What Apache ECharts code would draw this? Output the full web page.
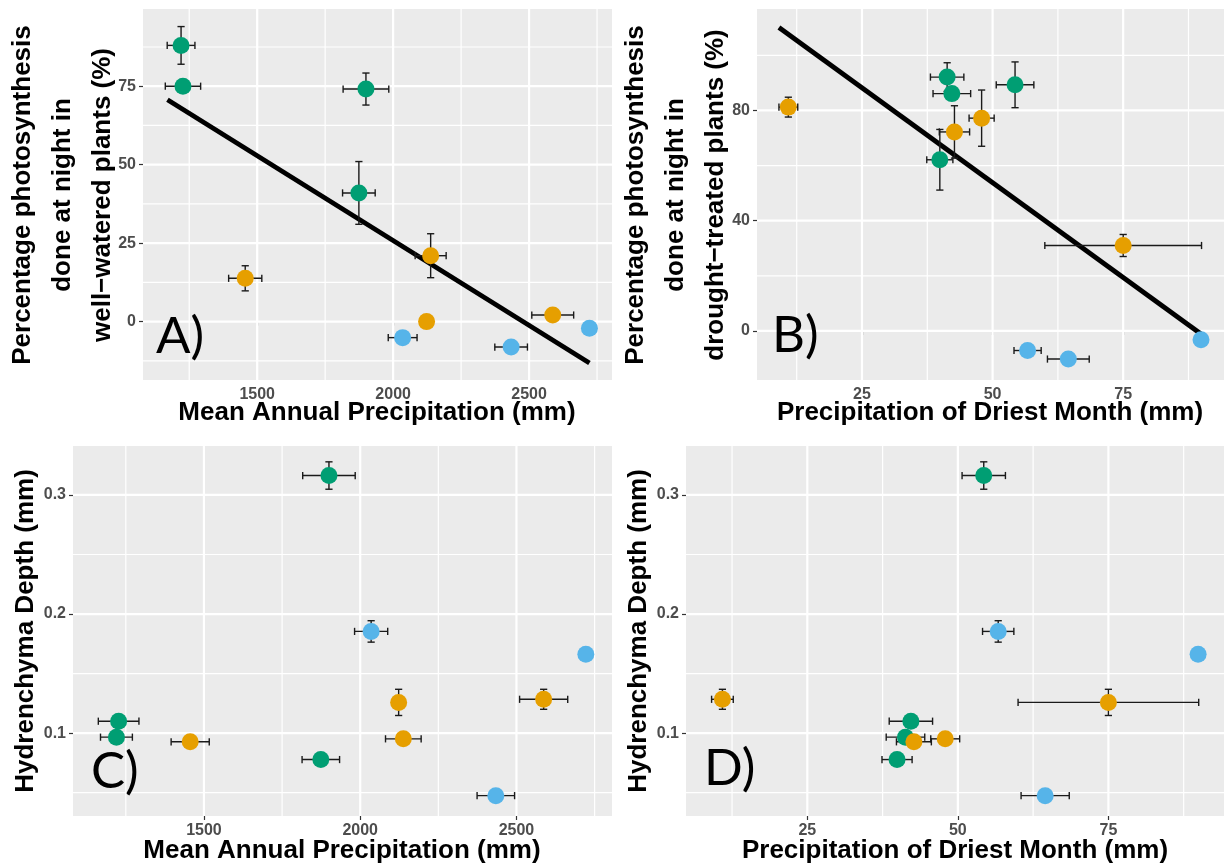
<!DOCTYPE html>
<html><head><meta charset="utf-8">
<script src="https://cdn.jsdelivr.net/npm/echarts@6/dist/echarts.min.js"></script>
<style>html,body{margin:0;padding:0;background:#fff;}#c{width:1224px;height:867px;}</style>
</head><body><div id="c"></div>
<script>
// ---- data (one entry per species) ----
const groups      = ['g','g','g','g','o','o','o','o','b','b','b'];
const map         = [1220, 1227, 1900, 1874, 1456, 2138, 2123, 2587, 2035, 2434, 2722];
const mapErr      = [51, 65, 84, 60, 61, 57, 0, 77, 53, 60, 0];
const pdm         = [41.3, 42.2, 54.3, 39.9, 42.7, 47.9, 75, 10.9, 56.7, 64.5, 89.9];
const pdmErr      = [3.2, 3.6, 3.6, 2.5, 2.9, 2.4, 15, 1.8, 2.6, 4.0, 0];
const nightWW     = [88, 75, 74.1, 41, 13.8, 21, 0, 2.1, -5.1, -8.1, -2.1];
const nightWWErr  = [6, 0, 5.1, 10, 4, 7, 0, 0, 0, 0, 0];
const nightDT     = [92.1, 86.1, 89.3, 62.1, 72.2, 77.2, 31, 81.2, -7.1, -10.2, -3.2];
const nightDTErr  = [5.2, 0, 8.3, 11, 9.5, 10.2, 4, 3.6, 0, 0, 0];
const hydDepth    = [0.0966, 0.110, 0.3163, 0.0778, 0.0927, 0.0952, 0.1258, 0.1284, 0.1854, 0.0475, 0.1663];
const hydDepthErr = [0, 0, 0.0115, 0, 0, 0, 0.011, 0.0084, 0.009, 0, 0];
const fitA_x = [1170, 2722], fitA_y = [70.7, -13.2];
const fitB_x = [9.1, 89.9],  fitB_y = [110.1, -1.1];
// tick values
const mapTicks = [1500, 2000, 2500], mapMinor = [1250, 1750, 2250, 2750];
const pdmTicks = [25, 50, 75],       pdmMinor = [12.5, 37.5, 62.5, 87.5];
const wwTicks  = [0, 25, 50, 75],    wwMinor  = [-12.5, 12.5, 37.5, 62.5, 87.5];
const dtTicks  = [0, 40, 80],        dtMinor  = [20, 60, 100];
const hydTicks = [0.1, 0.2, 0.3],    hydMinor = [0.05, 0.15, 0.25];

const colors = {g:'#009E73', o:'#E69F00', b:'#56B4E9'};
const FONT = 'Liberation Sans, Arial, sans-serif';

const panels = [
  {grid:{left:143, top:9, width:469, height:371}, x:[1080, 2805], y:[-18.6, 99.6],
   xv:map, xe:mapErr, yv:nightWW, ye:nightWWErr, xt:mapTicks, xm:mapMinor, yt:wwTicks, ym:wwMinor,
   fit:[fitA_x, fitA_y], yfmt:v=>String(v)},
  {grid:{left:757, top:9, width:467, height:371}, x:[4.9, 94.3], y:[-17.8, 116.8],
   xv:pdm, xe:pdmErr, yv:nightDT, ye:nightDTErr, xt:pdmTicks, xm:pdmMinor, yt:dtTicks, ym:dtMinor,
   fit:[fitB_x, fitB_y], yfmt:v=>String(v)},
  {grid:{left:73, top:446, width:539, height:370}, x:[1081, 2805.7], y:[0.0304, 0.3411],
   xv:map, xe:mapErr, yv:hydDepth, ye:hydDepthErr, xt:mapTicks, xm:mapMinor, yt:hydTicks, ym:hydMinor,
   fit:null, yfmt:v=>v.toFixed(1)},
  {grid:{left:686, top:446, width:538, height:370}, x:[4.85, 94.2], y:[0.0304, 0.3411],
   xv:pdm, xe:pdmErr, yv:hydDepth, ye:hydDepthErr, xt:pdmTicks, xm:pdmMinor, yt:hydTicks, ym:hydMinor,
   fit:null, yfmt:v=>v.toFixed(1)}
];

const grid = [], xAxis = [], yAxis = [], series = [];
const labelStyle = {fontSize:16, fontWeight:'bold', color:'#4D4D4D', fontFamily:FONT};

panels.forEach((p, i) => {
  grid.push(Object.assign({show:true, backgroundColor:'#EBEBEB', borderWidth:0}, p.grid));
  xAxis.push({type:'value', gridIndex:i, min:p.x[0], max:p.x[1],
    axisLine:{show:false}, splitLine:{show:false},
    axisTick:{show:true, customValues:p.xt, length:4, lineStyle:{color:'#333', width:1.2}},
    axisLabel:Object.assign({customValues:p.xt, margin:7, formatter:v=>String(v)}, labelStyle)});
  yAxis.push({type:'value', gridIndex:i, min:p.y[0], max:p.y[1],
    axisLine:{show:false}, splitLine:{show:false},
    axisTick:{show:true, customValues:p.yt, length:4, lineStyle:{color:'#333', width:1.2}},
    axisLabel:Object.assign({customValues:p.yt, margin:7, formatter:p.yfmt}, labelStyle)});

  // gridlines (through the axis scales)
  const gdata = [];
  p.xm.forEach(v => gdata.push([v, p.y[0], 0, 0]));
  p.xt.forEach(v => gdata.push([v, p.y[0], 1, 0]));
  p.ym.forEach(v => gdata.push([p.x[0], v, 0, 1]));
  p.yt.forEach(v => gdata.push([p.x[0], v, 1, 1]));
  series.push({type:'custom', xAxisIndex:i, yAxisIndex:i, silent:true, z:1, data:gdata,
    renderItem:(params, api) => {
      const cs = params.coordSys;
      const pt = api.coord([api.value(0), api.value(1)]);
      const w = api.value(2) ? 2.2 : 1.2;
      const shape = api.value(3) ?
        {x1:cs.x, y1:pt[1], x2:cs.x+cs.width, y2:pt[1]} :
        {x1:pt[0], y1:cs.y, x2:pt[0], y2:cs.y+cs.height};
      return {type:'line', shape, style:{stroke:'#FFFFFF', lineWidth:w}};
    }});

  // fit line
  if (p.fit) {
    series.push({type:'line', xAxisIndex:i, yAxisIndex:i, z:3, symbol:'none', silent:true,
      data:p.fit[0].map((x, k) => [x, p.fit[1][k]]),
      lineStyle:{color:'#000', width:4.8}});
  }

  // error bars
  const edata = p.xv.map((x, k) => [x, p.yv[k], p.xe[k], p.ye[k]]);
  series.push({type:'custom', xAxisIndex:i, yAxisIndex:i, silent:true, z:4, data:edata,
    renderItem:(params, api) => {
      const x = api.value(0), y = api.value(1), ex = api.value(2), ey = api.value(3);
      const st = {stroke:'#1a1a1a', lineWidth:1.4};
      const cap = 3.6, ch = [];
      if (ex > 0) {
        const a = api.coord([x-ex, y]), b = api.coord([x+ex, y]);
        ch.push({type:'line', shape:{x1:a[0], y1:a[1], x2:b[0], y2:b[1]}, style:st});
        ch.push({type:'line', shape:{x1:a[0], y1:a[1]-cap, x2:a[0], y2:a[1]+cap}, style:st});
        ch.push({type:'line', shape:{x1:b[0], y1:b[1]-cap, x2:b[0], y2:b[1]+cap}, style:st});
      }
      if (ey > 0) {
        const a = api.coord([x, y-ey]), b = api.coord([x, y+ey]);
        ch.push({type:'line', shape:{x1:a[0], y1:a[1], x2:b[0], y2:b[1]}, style:st});
        ch.push({type:'line', shape:{x1:a[0]-cap, y1:a[1], x2:a[0]+cap, y2:a[1]}, style:st});
        ch.push({type:'line', shape:{x1:b[0]-cap, y1:b[1], x2:b[0]+cap, y2:b[1]}, style:st});
      }
      return {type:'group', children:ch};
    }});

  // points
  ['g','o','b'].forEach(gk => {
    const d = [];
    p.xv.forEach((x, k) => { if (groups[k] === gk) d.push([x, p.yv[k]]); });
    series.push({type:'scatter', xAxisIndex:i, yAxisIndex:i, z:5, symbolSize:17, silent:true,
      data:d, itemStyle:{color:colors[gk], opacity:1}});
  });
});

function title(text, x, y, rot) {
  return {type:'text', x, y, rotation:rot ? Math.PI/2 : 0, silent:true, z:100,
    style:{text, fill:'#000', fontSize:26, fontWeight:'bold', fontFamily:FONT,
      align:'center', verticalAlign:'middle', lineHeight:40}};
}
function tag(text, x, y) {
  return {type:'text', x, y, silent:true, z:100,
    style:{text, fill:'#000', fontSize:51, fontFamily:'Lato, "Open Sans", sans-serif',
      align:'left', verticalAlign:'middle'}};
}
const graphic = [
  title('Percentage photosynthesis\ndone at night in\nwell\u2212watered plants (%)', 63, 195, true),
  title('Mean Annual Precipitation (mm)', 377, 413, false),
  title('Percentage photosynthesis\ndone at night in\ndrought\u2212treated plants (%)', 676, 195, true),
  title('Precipitation of Driest Month (mm)', 990, 413, false),
  title('Hydrenchyma Depth (mm)', 26, 631, true),
  title('Mean Annual Precipitation (mm)', 342, 851, false),
  title('Hydrenchyma Depth (mm)', 639, 631, true),
  title('Precipitation of Driest Month (mm)', 955, 851, false),
  tag('A)', 156, 337), tag('B)', 772, 336), tag('C)', 91, 772), tag('D)', 704, 769)
];

const chart = echarts.init(document.getElementById('c'), null, {renderer:'canvas'});
chart.setOption({animation:false, backgroundColor:'#FFFFFF', grid, xAxis, yAxis, series, graphic});
</script></body></html>
